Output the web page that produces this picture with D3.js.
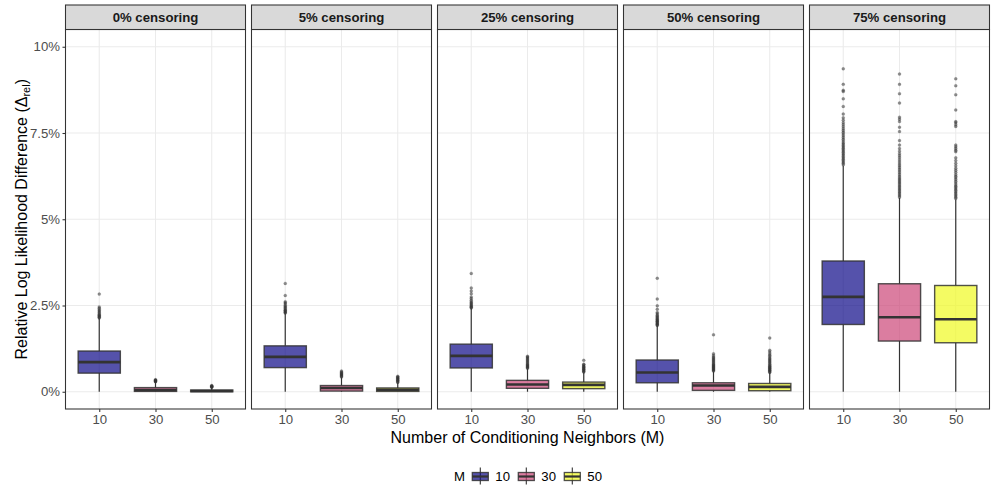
<!DOCTYPE html>
<html>
<head>
<meta charset="utf-8">
<script src="https://cdn.jsdelivr.net/npm/d3@7"></script>
<style>
  body { margin: 0; background: #fff; }
  svg { display: block; font-family: "Liberation Sans", Arial, Helvetica, sans-serif; }
</style>
</head>
<body>
<svg id="chart" width="997" height="498"></svg>
<script>
// ---- data (values in percent) ----
const censoring = ["0% censoring", "5% censoring", "25% censoring", "50% censoring", "75% censoring"];
const mLevels = ["10", "30", "50"];
const yTicks = [0, 2.5, 5, 7.5, 10];
const yTickLabels = ["0%", "2.5%", "5%", "7.5%", "10%"];

const q1 =      [[0.54, 0.01, 0.00], [0.70, 0.02, 0.01], [0.69, 0.10, 0.09], [0.26, 0.04, 0.03], [1.95, 1.47, 1.42]];
const medians = [[0.86, 0.05, 0.02], [1.01, 0.11, 0.06], [1.04, 0.21, 0.20], [0.56, 0.18, 0.14], [2.75, 2.16, 2.10]];
const q3 =      [[1.18, 0.12, 0.05], [1.33, 0.18, 0.11], [1.38, 0.33, 0.28], [0.92, 0.26, 0.24], [3.79, 3.13, 3.08]];
const whiskerLo = [[0, 0, 0], [0, 0, 0], [0, 0, 0], [0, 0, 0], [0, 0, 0]];
const whiskerHi = [[2.13, 0.28, 0.125], [2.27, 0.42, 0.26], [2.42, 0.67, 0.56], [1.91, 0.59, 0.55], [6.55, 5.62, 5.57]];

const outliers = [
  [
    [2.14, 2.16, 2.18, 2.2, 2.22, 2.25, 2.28, 2.31, 2.35, 2.38, 2.42, 2.46, 2.83],
    [0.29, 0.3, 0.31, 0.32, 0.33, 0.34, 0.35],
    [0.13, 0.14, 0.15, 0.16, 0.17, 0.18]
  ],
  [
    [2.28, 2.3, 2.32, 2.34, 2.36, 2.38, 2.41, 2.44, 2.47, 2.5, 2.54, 2.58, 2.61, 2.79, 3.14],
    [0.43, 0.45, 0.47, 0.49, 0.51, 0.53, 0.55, 0.57, 0.6],
    [0.27, 0.29, 0.31, 0.33, 0.35, 0.37, 0.39, 0.41, 0.43, 0.45]
  ],
  [
    [2.43, 2.45, 2.47, 2.49, 2.52, 2.55, 2.58, 2.61, 2.65, 2.7, 2.75, 2.84, 2.92, 3.01, 3.43],
    [0.68, 0.7, 0.72, 0.74, 0.76, 0.78, 0.8, 0.83, 0.86, 0.89, 0.92, 0.95, 0.98, 1.01, 1.03],
    [0.57, 0.59, 0.61, 0.63, 0.65, 0.67, 0.69, 0.71, 0.73, 0.75, 0.78, 0.8, 0.91]
  ],
  [
    [1.92, 1.94, 1.96, 1.98, 2.0, 2.02, 2.04, 2.06, 2.08, 2.1, 2.13, 2.16, 2.19, 2.22, 2.26, 2.3, 2.39, 2.49, 2.69, 3.29],
    [0.6, 0.62, 0.64, 0.66, 0.68, 0.7, 0.72, 0.74, 0.76, 0.78, 0.8, 0.83, 0.86, 0.89, 0.92, 0.95, 0.98, 1.01, 1.05, 1.1, 1.65],
    [0.56, 0.58, 0.6, 0.62, 0.64, 0.66, 0.68, 0.7, 0.72, 0.74, 0.77, 0.8, 0.83, 0.86, 0.89, 0.92, 0.95, 0.98, 1.02, 1.06, 1.1, 1.15, 1.2, 1.56]
  ],
  [
    [6.58, 6.62, 6.66, 6.7, 6.74, 6.78, 6.82, 6.86, 6.9, 6.94, 6.98, 7.02, 7.06, 7.1, 7.14, 7.18, 7.22, 7.27, 7.32, 7.37, 7.42, 7.47, 7.52, 7.57, 7.62, 7.68, 7.74, 7.8, 7.87, 7.94, 8.05, 8.27, 8.49, 8.7, 8.74, 8.91, 9.36],
    [5.64, 5.68, 5.72, 5.76, 5.8, 5.84, 5.88, 5.92, 5.96, 6.0, 6.04, 6.08, 6.12, 6.16, 6.2, 6.25, 6.3, 6.35, 6.4, 6.45, 6.5, 6.55, 6.6, 6.66, 6.72, 6.78, 6.84, 6.9, 6.97, 7.05, 7.15, 7.28, 7.54, 7.67, 7.83, 7.9, 7.96, 8.37, 8.64, 8.91, 9.21],
    [5.6, 5.64, 5.68, 5.72, 5.76, 5.8, 5.84, 5.88, 5.92, 5.96, 6.0, 6.05, 6.1, 6.15, 6.2, 6.25, 6.3, 6.36, 6.42, 6.48, 6.55, 6.62, 6.7, 6.78, 6.96, 7.0, 7.05, 7.1, 7.15, 7.69, 7.74, 7.8, 7.83, 8.17, 8.61, 8.87, 9.07]
  ]
];

const colors = ["#0D0887", "#CC4678", "#F0F921"];

// ---- layout ----
const svg = d3.select("#chart");
const plotLeft = 65.5, plotRight = 989.5, gap = 6;
const stripTop = 5, stripBottom = 29.5, panelBottom = 409;
const nP = censoring.length;
const panelW = (plotRight - plotLeft - gap * (nP - 1)) / nP;

const panelScale = d3.scaleBand().domain(censoring).range([plotLeft, plotRight]).paddingInner(gap / (panelW + gap)).paddingOuter(0);
const y = d3.scaleLinear().domain([-0.5, 10.5]).range([panelBottom, stripBottom]);
const x = d3.scalePoint().domain(mLevels).range([0, panelScale.bandwidth()]).padding(0.6);
const boxW = x.step() * 0.75;
const fillOpacity = 0.7;

censoring.forEach((cen, pi) => {
  const g = svg.append("g").attr("transform", `translate(${panelScale(cen)},0)`);
  const w = panelScale.bandwidth();

  // background
  g.append("rect").attr("x", 0).attr("y", stripBottom).attr("width", w).attr("height", panelBottom - stripBottom).attr("fill", "#fff");
  // grid
  g.selectAll(".hg").data(yTicks).join("line")
    .attr("x1", 0).attr("x2", w).attr("y1", d => y(d)).attr("y2", d => y(d))
    .attr("stroke", "#EBEBEB").attr("stroke-width", 1.07);
  g.selectAll(".vg").data(mLevels).join("line")
    .attr("x1", d => x(d)).attr("x2", d => x(d)).attr("y1", stripBottom).attr("y2", panelBottom)
    .attr("stroke", "#EBEBEB").attr("stroke-width", 1.07);

  mLevels.forEach((m, mi) => {
    const cx = x(m);
    // whiskers
    g.append("line").attr("x1", cx).attr("x2", cx)
      .attr("y1", y(q3[pi][mi])).attr("y2", y(whiskerHi[pi][mi]))
      .attr("stroke", "#333").attr("stroke-width", 1.2);
    g.append("line").attr("x1", cx).attr("x2", cx)
      .attr("y1", y(q1[pi][mi])).attr("y2", y(whiskerLo[pi][mi]))
      .attr("stroke", "#333").attr("stroke-width", 1.2);
    // outliers
    g.selectAll(null).data(outliers[pi][mi]).join("circle")
      .attr("cx", cx).attr("cy", d => y(d)).attr("r", 1.5)
      .attr("fill", "#333").attr("fill-opacity", 0.55)
      .attr("stroke", "#333").attr("stroke-opacity", 0.4).attr("stroke-width", 0.4);
    // box
    g.append("rect")
      .attr("x", cx - boxW / 2).attr("width", boxW)
      .attr("y", y(q3[pi][mi])).attr("height", Math.max(0.5, y(q1[pi][mi]) - y(q3[pi][mi])))
      .attr("fill", colors[mi]).attr("fill-opacity", fillOpacity)
      .attr("stroke", "#333").attr("stroke-opacity", 0.85).attr("stroke-width", 1.4);
    // median
    g.append("line").attr("x1", cx - boxW / 2).attr("x2", cx + boxW / 2)
      .attr("y1", y(medians[pi][mi])).attr("y2", y(medians[pi][mi]))
      .attr("stroke", "#333").attr("stroke-width", 2.6);
  });

  // panel border
  g.append("rect").attr("x", 0).attr("y", stripBottom).attr("width", w).attr("height", panelBottom - stripBottom)
    .attr("fill", "none").attr("stroke", "#333").attr("stroke-width", 1.07);
  // strip
  g.append("rect").attr("x", 0).attr("y", stripTop).attr("width", w).attr("height", stripBottom - stripTop)
    .attr("fill", "#D9D9D9").attr("stroke", "#333").attr("stroke-width", 1.07);
  g.append("text").attr("x", w / 2).attr("y", (stripTop + stripBottom) / 2).attr("dy", "0.36em")
    .attr("text-anchor", "middle").attr("font-size", 13.2).attr("font-weight", "bold").attr("fill", "#1A1A1A")
    .text(cen);

  // x axis
  const xa = g.append("g").attr("transform", `translate(0,${panelBottom})`)
    .call(d3.axisBottom(x).tickSize(3).tickPadding(2.5));
  xa.select(".domain").remove();
  xa.selectAll("line").attr("stroke", "#333").attr("stroke-width", 1.07);
  xa.selectAll("text").attr("fill", "#4D4D4D").attr("font-size", 13.2).attr("font-family", "Liberation Sans, Arial, sans-serif");

  if (pi === 0) {
    const ya = g.append("g")
      .call(d3.axisLeft(y).tickValues(yTicks).tickFormat((d, i) => yTickLabels[i]).tickSize(3).tickPadding(2.5));
    ya.select(".domain").remove();
    ya.selectAll("line").attr("stroke", "#333").attr("stroke-width", 1.07);
    ya.selectAll("text").attr("fill", "#4D4D4D").attr("font-size", 13.2).attr("font-family", "Liberation Sans, Arial, sans-serif");
  }
});

// axis titles
svg.append("text").attr("x", (plotLeft + plotRight) / 2).attr("y", 443)
  .attr("text-anchor", "middle").attr("font-size", 16).attr("fill", "#000")
  .text("Number of Conditioning Neighbors (M)");

const yt = svg.append("text")
  .attr("transform", `translate(26.5,${(stripBottom + panelBottom) / 2}) rotate(-90)`)
  .attr("text-anchor", "middle").attr("font-size", 16).attr("fill", "#000");
yt.append("tspan").text("Relative Log Likelihood Difference (Δ");
yt.append("tspan").attr("font-size", 11).attr("dy", 3).text("rel");
yt.append("tspan").attr("dy", -3).text(")");

// legend
const lg = svg.append("g");
lg.append("text").attr("x", 454).attr("y", 476).attr("dy", "0.36em").attr("font-size", 13.2).attr("fill", "#000").text("M");
const keyX = [472.3, 518.3, 564.3];
mLevels.forEach((m, i) => {
  const kx = keyX[i], kw = 16, cy = 476.5;
  lg.append("line").attr("x1", kx + kw / 2).attr("x2", kx + kw / 2).attr("y1", cy - 9).attr("y2", cy + 8)
    .attr("stroke", "#333").attr("stroke-width", 1.1);
  lg.append("rect").attr("x", kx).attr("y", cy - 4).attr("width", kw).attr("height", 8)
    .attr("fill", colors[i]).attr("fill-opacity", fillOpacity).attr("stroke", "#333").attr("stroke-opacity", 0.85).attr("stroke-width", 1.3);
  lg.append("line").attr("x1", kx).attr("x2", kx + kw).attr("y1", cy).attr("y2", cy)
    .attr("stroke", "#333").attr("stroke-width", 2.2);
  lg.append("text").attr("x", kx + kw + 7).attr("y", 476).attr("dy", "0.36em")
    .attr("font-size", 13.2).attr("fill", "#000").text(m);
});
</script>
</body>
</html>
